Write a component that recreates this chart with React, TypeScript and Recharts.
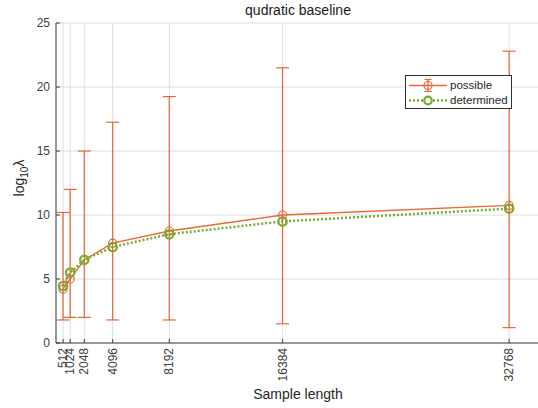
import { ComposedChart, Line, ErrorBar, XAxis, YAxis, CartesianGrid } from 'recharts';

const lengths = [512, 1024, 2048, 4096, 8192, 16384, 32768];
const possible = [4.2, 5.0, 6.5, 7.8, 8.75, 10.0, 10.75];
const possibleLow = [1.8, 2.0, 2.0, 1.8, 1.8, 1.5, 1.2];
const possibleHigh = [10.2, 12.0, 15.0, 17.25, 19.25, 21.5, 22.8];
const determined = [4.45, 5.5, 6.5, 7.5, 8.5, 9.5, 10.5];
const yTicks = [0, 5, 10, 15, 20, 25];

const ORANGE = '#EC6536';
const GREEN = '#77AC30';
const AXIS = '#404040';
const FONT = '"Liberation Sans", Arial, Helvetica, sans-serif';

const data = lengths.map((len, i) => ({
  len,
  possible: possible[i],
  err: [possible[i] - possibleLow[i], possibleHigh[i] - possible[i]],
  determined: determined[i],
}));

const XTick = ({ x, y, payload }: any) => (
  <g>
    <line x1={x} y1={y} x2={x} y2={y - 4} stroke={AXIS} />
    <text
      transform={`translate(${x}, ${y + 5}) rotate(-90)`}
      textAnchor="end"
      dominantBaseline="central"
      fontSize={12}
      fill={AXIS}
      fontFamily={FONT}
    >
      {payload.value}
    </text>
  </g>
);

const YTick = ({ x, y, payload }: any) => (
  <g>
    <line x1={x} y1={y} x2={x + 4} y2={y} stroke={AXIS} />
    <text x={x - 6} y={y} textAnchor="end" dominantBaseline="central" fontSize={12} fill={AXIS} fontFamily={FONT}>
      {payload.value}
    </text>
  </g>
);

const YLabel = ({ viewBox }: any) => {
  const cy = viewBox.y + viewBox.height / 2 - 5;
  return (
    <text transform={`translate(24, ${cy}) rotate(-90)`} textAnchor="middle" fontSize={14} fill="#262626" fontFamily={FONT}>
      log
      <tspan fontSize={10} dy={4}>10</tspan>
      <tspan dy={-4}>λ</tspan>
    </text>
  );
};

const LegendBox = () => (
  <div
    style={{
      position: 'absolute',
      left: 405,
      top: 75,
      border: '1px solid #333',
      background: '#fff',
      width: 107,
      height: 34,
      fontFamily: FONT,
      fontSize: 11.5,
      color: '#262626',
      lineHeight: '15px',
      boxSizing: 'border-box',
      paddingTop: 1,
    }}
  >
    <div style={{ display: 'flex', alignItems: 'center', height: 16 }}>
      <svg width={44} height={15}>
        <line x1={3} y1={7.5} x2={41} y2={7.5} stroke={ORANGE} strokeWidth={1.3} />
        <line x1={22} y1={1.5} x2={22} y2={13.5} stroke={ORANGE} strokeWidth={1.2} />
        <line x1={18.5} y1={1.5} x2={25.5} y2={1.5} stroke={ORANGE} strokeWidth={1.2} />
        <line x1={18.5} y1={13.5} x2={25.5} y2={13.5} stroke={ORANGE} strokeWidth={1.2} />
        <circle cx={22} cy={7.5} r={4} fill="none" stroke={ORANGE} strokeWidth={1.2} />
      </svg>
      <span>possible</span>
    </div>
    <div style={{ display: 'flex', alignItems: 'center', height: 15 }}>
      <svg width={44} height={15}>
        <line x1={3} y1={7.5} x2={41} y2={7.5} stroke={GREEN} strokeWidth={2.5} strokeDasharray="2 2" />
        <circle cx={22} cy={7.5} r={3.8} fill="#fff" stroke={GREEN} strokeWidth={2.2} />
      </svg>
      <span>determined</span>
    </div>
  </div>
);

export default function App() {
  return (
    <div style={{ position: 'absolute', left: 0, top: 0, width: 538, height: 408, overflow: 'hidden', background: '#fff' }}>
      <ComposedChart width={560} height={408} data={data} margin={{ top: 23, right: 20, bottom: 0, left: 0 }}>
        <CartesianGrid stroke="#dedede" strokeWidth={1} />
        <XAxis
          dataKey="len"
          type="number"
          domain={[0, 35000]}
          ticks={lengths}
          interval={0}
          height={65}
          tickSize={0}
          tickMargin={0}
          tick={<XTick />}
          stroke={AXIS}
          label={{ value: 'Sample length', position: 'insideBottom', offset: 9, fontSize: 14, fill: '#262626', fontFamily: FONT }}
        />
        <YAxis
          type="number"
          domain={[0, 25]}
          ticks={yTicks}
          width={56}
          tickSize={0}
          tickMargin={0}
          tick={<YTick />}
          stroke={AXIS}
          label={<YLabel />}
        />
        <Line
          dataKey="possible"
          name="possible"
          stroke={ORANGE}
          strokeWidth={1.3}
          dot={{ r: 4, fill: 'none', stroke: ORANGE, strokeWidth: 1.2 }}
          isAnimationActive={false}
        >
          <ErrorBar dataKey="err" direction="y" width={6.5} stroke={ORANGE} strokeWidth={1.2} />
        </Line>
        <Line
          dataKey="determined"
          name="determined"
          stroke={GREEN}
          strokeWidth={2.5}
          strokeDasharray="2 2"
          dot={{ r: 4.2, fill: 'none', stroke: GREEN, strokeWidth: 2.2, strokeDasharray: '' }}
          isAnimationActive={false}
        />
      </ComposedChart>
      <LegendBox />
      <div
        style={{
          position: 'absolute',
          left: 298,
          top: 2,
          transform: 'translateX(-50%)',
          fontFamily: FONT,
          fontSize: 14,
          lineHeight: '16px',
          color: '#1a1a1a',
          whiteSpace: 'nowrap',
        }}
      >
        qudratic baseline
      </div>
    </div>
  );
}
